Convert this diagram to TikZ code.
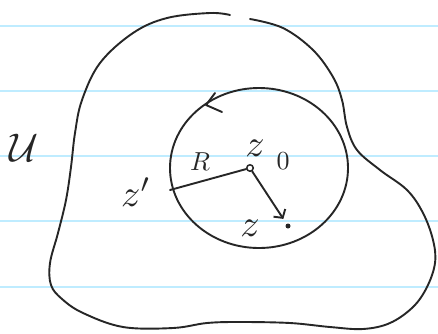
\documentclass[tikz,border=0pt]{standalone}
\usepackage{graphicx}
\usetikzlibrary{arrows.meta}
\begin{document}
\begin{tikzpicture}[x=1pt,y=1pt,
  ink/.style={draw=black!85,line width=1.9pt,line cap=round,line join=round},
  paperline/.style={draw=blue!30!cyan!25,line width=1.4pt},
  lbl/.style={inner sep=0pt,text=black!85}]
\useasboundingbox[fill=white] (0,0) rectangle (438,-333);
% ruled paper lines
\foreach \yy in {26,91,156,221,287}
  \draw[paperline] (0,-\yy) -- (438,-\yy);
% outer region
\draw[ink] plot[smooth,tension=0.6] coordinates {
 (230,-15) (210,-13) (167,-18) (133,-33) (100,-63) (82,-100) (75,-133)
 (71,-167) (66,-200) (58,-233) (50,-263) (51,-285) (62,-299) (83,-313)
 (123,-327) (173,-328) (207,-323) (240,-322) (290,-323) (330,-327)
 (363,-329) (390,-323) (413,-307) (427,-287) (435,-263) (433,-240)
 (423,-213) (407,-190) (380,-170) (357,-150) (347,-127) (342,-100)
 (333,-77) (313,-50) (283,-28) (250,-19)};
% inner circle
\draw[ink] (259,-168) ellipse [x radius=89, y radius=80];
% orientation arrowhead on the circle
\draw[ink] (215,-93) -- (206,-105) -- (222,-112);
% points
\node[circle,draw=black!85,line width=1.5pt,inner sep=0pt,minimum size=6.5pt] (z0) at (250,-168) {};
\node[circle,fill=black!85,inner sep=0pt,minimum size=5pt,outer sep=6pt] (zz) at (288,-226) {};
\coordinate (zp) at (170,-190);
% radius and vector
\draw[ink] (zp) -- (z0);
\draw[ink,-{Straight Barb[length=6pt,width=14pt,line width=1.9pt]}] (z0) -- (zz);
% labels
\node[lbl] (lU) at (24,-148) {\scalebox{4}{$\mathcal{U}$}};
\node[lbl] (lR) at (200,-162) {\scalebox{2.6}{$R$}};
\node[lbl] (lzp) at (136,-192) {\scalebox{3.8}{$z'$}};
\node[lbl] (lz0) at (255,-148) {\scalebox{3.8}{$z$}};
\node[lbl] (lz0s) at (283,-161) {\scalebox{2.6}{$0$}};
\node[lbl] (lz) at (250,-228) {\scalebox{3.8}{$z$}};
\end{tikzpicture}
\end{document}
